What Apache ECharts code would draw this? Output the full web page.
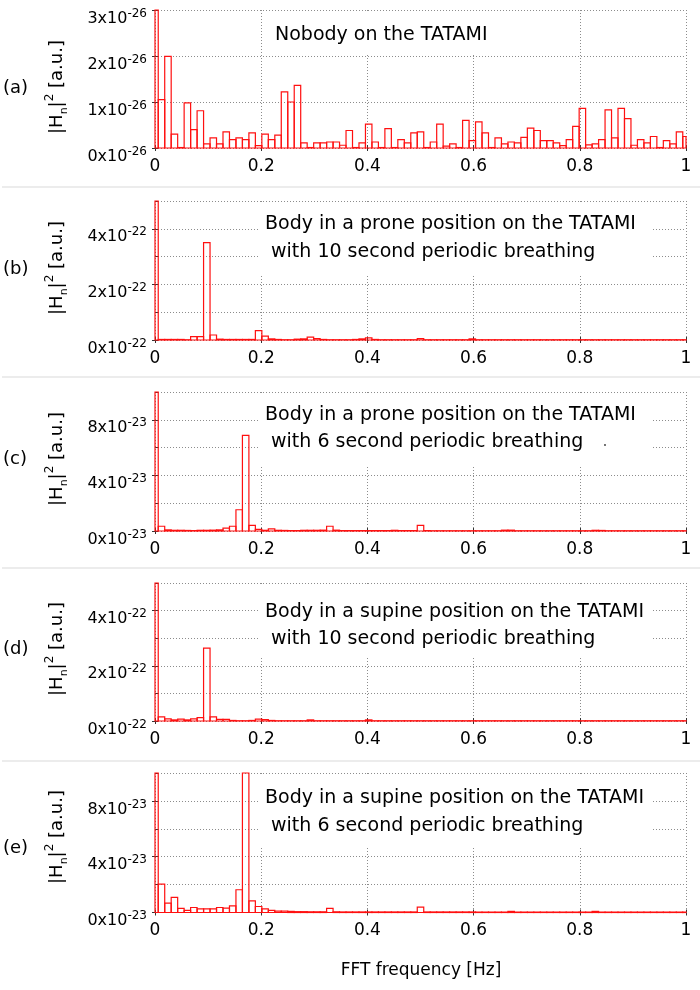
<!DOCTYPE html>
<html>
<head>
<meta charset="utf-8">
<script src="https://cdn.jsdelivr.net/npm/echarts@6/dist/echarts.min.js"></script>
<style>
  html, body { margin: 0; padding: 0; background: #fff; }
  #chart { width: 700px; height: 990px; }
</style>
</head>
<body>
<div id="chart"></div>
<script>
// FFT bins: centred on k * binWidth, k = 0..82
const binWidth = 1 / 82;

// (a) nobody on the tatami, units of 1e-26
const nobody = [
  3.0, 1.05, 1.99, 0.30, 0.01, 0.98, 0.40, 0.81, 0.09, 0.22,
  0.09, 0.35, 0.18, 0.22, 0.18, 0.33, 0.05, 0.30, 0.18, 0.28,
  1.22, 1.00, 1.36, 0.11, 0.01, 0.11, 0.11, 0.13, 0.13, 0.06,
  0.38, 0.01, 0.11, 0.52, 0.13, 0.01, 0.42, 0.01, 0.18, 0.11,
  0.33, 0.35, 0.01, 0.13, 0.52, 0.04, 0.09, 0.01, 0.60, 0.16,
  0.57, 0.33, 0.01, 0.22, 0.09, 0.13, 0.11, 0.23, 0.43, 0.38,
  0.16, 0.16, 0.11, 0.05, 0.18, 0.47, 0.86, 0.07, 0.09, 0.18,
  0.83, 0.22, 0.86, 0.64, 0.06, 0.18, 0.11, 0.25, 0.01, 0.16,
  0.09, 0.35, 0.25
];
// (b) prone, 10 s breathing, units of 1e-22
const proneTen = [
  5.0, 0.02, 0.02, 0.02, 0.02, 0.01, 0.12, 0.12, 3.50, 0.18,
  0.03, 0.02, 0.02, 0.02, 0.02, 0.02, 0.34, 0.14, 0.04, 0.02,
  0.01, 0.01, 0.03, 0.04, 0.10, 0.05, 0.02, 0.01, 0.01, 0.01,
  0.01, 0.02, 0.04, 0.08, 0.02, 0.01, 0.01, 0.01, 0.01, 0.01,
  0.01, 0.05, 0.01, 0.01, 0.01, 0.01, 0.01, 0.01, 0.01, 0.04,
  0.01, 0.01, 0.01, 0.01, 0.01, 0.01, 0.01, 0.01, 0.01, 0.01,
  0.01, 0.01, 0.01, 0.01, 0.01, 0.01, 0.01, 0.01, 0.01, 0.01,
  0.01, 0.01, 0.01, 0.01, 0.01, 0.01, 0.01, 0.01, 0.01, 0.01,
  0.01, 0.01, 0.01
];
// (c) prone, 6 s breathing, units of 1e-23
const proneSix = [
  10, 0.34, 0.08, 0.05, 0.05, 0.04, 0.03, 0.05, 0.05, 0.06,
  0.08, 0.20, 0.34, 1.53, 6.88, 0.40, 0.12, 0.05, 0.15, 0.05,
  0.04, 0.03, 0.03, 0.05, 0.05, 0.05, 0.06, 0.34, 0.06, 0.03,
  0.03, 0.03, 0.03, 0.03, 0.03, 0.03, 0.03, 0.05, 0.03, 0.03,
  0.03, 0.40, 0.03, 0.02, 0.02, 0.02, 0.02, 0.02, 0.02, 0.02,
  0.02, 0.02, 0.02, 0.02, 0.06, 0.06, 0.02, 0.02, 0.02, 0.02,
  0.02, 0.02, 0.02, 0.02, 0.02, 0.02, 0.02, 0.02, 0.05, 0.04,
  0.02, 0.02, 0.02, 0.02, 0.02, 0.02, 0.02, 0.02, 0.02, 0.02,
  0.02, 0.02, 0.02
];
// (d) supine, 10 s breathing, units of 1e-22
const supineTen = [
  5.0, 0.15, 0.08, 0.04, 0.07, 0.04, 0.08, 0.12, 2.64, 0.15,
  0.06, 0.06, 0.02, 0.01, 0.01, 0.02, 0.07, 0.05, 0.02, 0.01,
  0.01, 0.01, 0.01, 0.01, 0.04, 0.01, 0.01, 0.01, 0.01, 0.01,
  0.01, 0.01, 0.01, 0.04, 0.01, 0.01, 0.01, 0.01, 0.01, 0.01,
  0.01, 0.01, 0.01, 0.01, 0.01, 0.01, 0.01, 0.01, 0.01, 0.01,
  0.01, 0.01, 0.01, 0.01, 0.01, 0.01, 0.01, 0.01, 0.01, 0.01,
  0.01, 0.01, 0.01, 0.01, 0.01, 0.01, 0.01, 0.01, 0.01, 0.01,
  0.01, 0.01, 0.01, 0.01, 0.01, 0.01, 0.01, 0.01, 0.01, 0.01,
  0.01, 0.01, 0.01
];
// (e) supine, 6 s breathing, units of 1e-23
const supineSix = [
  10, 2.03, 0.67, 1.08, 0.30, 0.15, 0.36, 0.26, 0.26, 0.26,
  0.36, 0.31, 0.48, 1.63, 10, 0.84, 0.43, 0.26, 0.15, 0.10,
  0.10, 0.08, 0.06, 0.06, 0.05, 0.05, 0.05, 0.29, 0.05, 0.04,
  0.04, 0.04, 0.04, 0.04, 0.04, 0.04, 0.04, 0.04, 0.04, 0.04,
  0.04, 0.38, 0.04, 0.04, 0.04, 0.04, 0.04, 0.04, 0.04, 0.04,
  0.03, 0.03, 0.03, 0.03, 0.03, 0.08, 0.03, 0.03, 0.03, 0.03,
  0.03, 0.03, 0.03, 0.03, 0.03, 0.03, 0.03, 0.03, 0.08, 0.03,
  0.03, 0.03, 0.03, 0.03, 0.03, 0.03, 0.03, 0.03, 0.03, 0.03,
  0.03, 0.03, 0.03
];

const panelLetters = ['(a)', '(b)', '(c)', '(d)', '(e)'];
const exponents = ['-26', '-22', '-23', '-22', '-23'];
const notes = [
  ['Nobody on the TATAMI'],
  ['Body in a prone position on the TATAMI', ' with 10 second periodic breathing'],
  ['Body in a prone position on the TATAMI', ' with 6 second periodic breathing'],
  ['Body in a supine position on the TATAMI', ' with 10 second periodic breathing'],
  ['Body in a supine position on the TATAMI', ' with 6 second periodic breathing']
];
const series = [nobody, proneTen, proneSix, supineTen, supineSix];
const yMax = [3, 5, 10, 5, 10];
const yLabelStep = [1, 2, 4, 2, 4];
const yGridStep = [1, 1, 2, 1, 2];

// layout (pixels)
const FONT = 'DejaVu Sans';
const gridLeft = 155;
const gridWidth = 531;
const gridTops = [10, 201, 392, 583, 773];
const gridHeights = [138, 139, 139, 138, 139.5];
const letterY = [90, 271, 461, 651, 850];
const titleY = [87, 268, 459, 649, 837];
const noteBox = [
  { x: 262, y: 13, w: 240, h: 42 },
  { x: 258, y: 204, w: 395, h: 70 },
  { x: 258, y: 395, w: 395, h: 70 },
  { x: 258, y: 586, w: 395, h: 70 },
  { x: 258, y: 776, w: 395, h: 70 }
];
const noteY = [[35], [224, 252], [415, 442], [612, 639], [798, 826]];
const separators = [187, 377, 568, 761];

const RED = '#ff1010';
const dotted = { color: '#8c8c8c', width: 1, type: [1, 2] };

function renderBar(params, api) {
  const f = api.value(0);
  const v = api.value(1);
  const p0 = api.coord([f - binWidth / 2, 0]);
  const p1 = api.coord([f + binWidth / 2, v]);
  const cs = params.coordSys;
  const shape = echarts.graphic.clipRectByRect(
    { x: p0[0], y: p1[1], width: p1[0] - p0[0], height: p0[1] - p1[1] },
    { x: cs.x, y: cs.y, width: cs.width, height: cs.height + 1 }
  );
  if (!shape) return null;
  return {
    type: 'rect',
    shape: shape,
    style: { fill: 'none', stroke: RED, lineWidth: 1.2 }
  };
}

const grids = [], xAxes = [], yAxes = [], seriesList = [], graphics = [];

series.forEach((vals, i) => {
  grids.push({ left: gridLeft, width: gridWidth, top: gridTops[i], height: gridHeights[i] });

  xAxes.push({
    gridIndex: i, type: 'value', min: 0, max: 1, interval: 0.2,
    axisLine: { show: false },
    axisTick: { show: true, length: 3, lineStyle: { color: '#333' } },
    axisLabel: { color: '#000', fontSize: 17, fontFamily: FONT, margin: 10 },
    splitLine: { show: true, lineStyle: dotted }
  });
  xAxes.push({
    gridIndex: i, type: 'value', position: 'top', min: 0, max: 1, interval: 0.2,
    axisLine: { show: false },
    axisTick: { show: true, length: 3, lineStyle: { color: '#333' } },
    axisLabel: { show: false },
    splitLine: { show: false }
  });

  const exp = exponents[i];
  yAxes.push({
    gridIndex: i, type: 'value', min: 0, max: yMax[i], interval: yLabelStep[i],
    axisLine: { show: false },
    axisTick: { show: true, length: 3, lineStyle: { color: '#333' } },
    splitLine: { show: false },
    axisLabel: {
      margin: 8,
      padding: [14, 0, 0, 0],
      showMaxLabel: yMax[i] % yLabelStep[i] === 0,
      formatter: (v) => '{m|' + v + 'x10}{s|' + exp + '}',
      rich: {
        m: { fontSize: 16, fontFamily: FONT, color: '#000', lineHeight: 19, verticalAlign: 'bottom' },
        s: { fontSize: 12, fontFamily: FONT, color: '#000', lineHeight: 19, verticalAlign: 'top' }
      }
    }
  });
  yAxes.push({
    gridIndex: i, type: 'value', position: 'right', min: 0, max: yMax[i], interval: yGridStep[i],
    axisLine: { show: false },
    axisTick: { show: true, length: 3, lineStyle: { color: '#333' } },
    axisLabel: { show: false },
    splitLine: { show: true, lineStyle: dotted }
  });

  seriesList.push({
    type: 'custom',
    xAxisIndex: 2 * i,
    yAxisIndex: 2 * i,
    renderItem: renderBar,
    clip: false,
    z: 3,
    encode: { x: 0, y: 1 },
    data: vals.map((v, k) => [k * binWidth, v])
  });

  // panel letter
  graphics.push({
    type: 'text', left: 3, top: letterY[i] - 11,
    style: { text: panelLetters[i], fontSize: 18, fontFamily: FONT, fill: '#000' }
  });
  // y axis title (rotated)
  graphics.push({
    type: 'text', x: 57, y: titleY[i], rotation: Math.PI / 2,
    style: {
      text: '{m||H}{sub|n}{m||}{sup|2}{m| [a.u.]}',
      align: 'center', verticalAlign: 'middle',
      rich: {
        m: { fontSize: 18, fontFamily: FONT, fill: '#000', lineHeight: 26, verticalAlign: 'middle' },
        sub: { fontSize: 11, fontFamily: FONT, fill: '#000', lineHeight: 26, verticalAlign: 'bottom' },
        sup: { fontSize: 12, fontFamily: FONT, fill: '#000', lineHeight: 26, verticalAlign: 'top' }
      }
    }
  });
  // note box
  const b = noteBox[i];
  graphics.push({
    type: 'rect', z: 4,
    shape: { x: b.x, y: b.y, width: b.w, height: b.h },
    style: { fill: '#fff' }
  });
  notes[i].forEach((line, j) => {
    graphics.push({
      type: 'text', z: 5, x: i === 0 ? 275 : 265, y: noteY[i][j],
      style: { text: line, fontSize: 19, fontFamily: FONT, fill: '#000', verticalAlign: 'middle' }
    });
  });
});

separators.forEach((y) => {
  graphics.push({
    type: 'line', z: 1,
    shape: { x1: 2, y1: y, x2: 700, y2: y },
    style: { stroke: '#ececec', lineWidth: 2 }
  });
});

// stray dot in panel (c)
graphics.push({ type: 'circle', z: 6, shape: { cx: 605, cy: 445, r: 0.9 }, style: { fill: '#333' } });

// x axis title
graphics.push({
  type: 'text', x: 421, y: 971,
  style: { text: 'FFT frequency [Hz]', fontSize: 17, fontFamily: FONT, fill: '#000', align: 'center', verticalAlign: 'middle' }
});

const chart = echarts.init(document.getElementById('chart'), null, { renderer: 'canvas' });
chart.setOption({
  animation: false,
  backgroundColor: '#fff',
  grid: grids,
  xAxis: xAxes,
  yAxis: yAxes,
  series: seriesList,
  graphic: graphics
});
</script>
</body>
</html>
